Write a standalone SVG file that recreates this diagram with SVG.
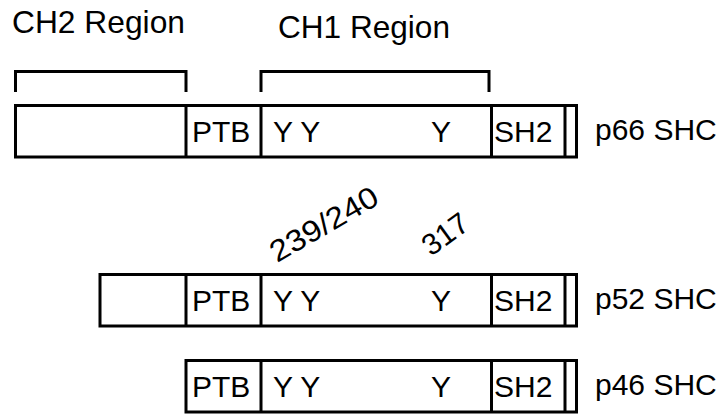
<svg xmlns="http://www.w3.org/2000/svg" width="726" height="414" viewBox="0 0 726 414">
<style>
.t{font-family:"Liberation Sans",Arial,sans-serif;font-size:30px;fill:#000}
.h{font-family:"Liberation Sans",Arial,sans-serif;font-size:31.5px;fill:#000}
.b{fill:#fff;stroke:#000;stroke-width:3}
.l{fill:none;stroke:#000;stroke-width:3}
</style>
<rect width="726" height="414" fill="#fff"/>
<g id="labels">
<text class="h" x="12" y="33" textLength="173" lengthAdjust="spacingAndGlyphs">CH2 Region</text>
<text class="h" x="278" y="38" textLength="172" lengthAdjust="spacingAndGlyphs">CH1 Region</text>
<text class="t" x="277" y="263" transform="rotate(-30 277 263)" textLength="120" lengthAdjust="spacingAndGlyphs">239/240</text>
<text class="t" x="431" y="257" transform="rotate(-36 431 257)" textLength="50" lengthAdjust="spacingAndGlyphs">317</text>
</g>
<g id="connectors">
<path class="l" d="M15.5 92V71.5H186V92"/>
<path class="l" d="M261 92V71.5H489V92"/>
</g>
<g id="p66">
<rect class="b" x="15.5" y="105.5" width="561" height="51.5"/>
<path class="l" d="M186 105.5V157M261 105.5V157M491.5 105.5V157M565 105.5V157"/>
<text class="t" x="192" y="142">PTB</text>
<text class="t" x="273" y="142">Y Y</text>
<text class="t" x="431" y="142">Y</text>
<text class="t" x="494" y="142">SH2</text>
<text class="t" x="595" y="140">p66 SHC</text>
</g>
<g id="p52">
<rect class="b" x="100" y="274.5" width="476.5" height="51.5"/>
<path class="l" d="M186 274.5V326M261 274.5V326M491.5 274.5V326M565 274.5V326"/>
<text class="t" x="192" y="311">PTB</text>
<text class="t" x="273" y="311">Y Y</text>
<text class="t" x="431" y="311">Y</text>
<text class="t" x="494" y="311">SH2</text>
<text class="t" x="595" y="309">p52 SHC</text>
</g>
<g id="p46">
<rect class="b" x="186" y="360.5" width="390.5" height="51.5"/>
<path class="l" d="M261 360.5V412M491.5 360.5V412M565 360.5V412"/>
<text class="t" x="192" y="397">PTB</text>
<text class="t" x="273" y="397">Y Y</text>
<text class="t" x="431" y="397">Y</text>
<text class="t" x="494" y="397">SH2</text>
<text class="t" x="595" y="395">p46 SHC</text>
</g>
</svg>
